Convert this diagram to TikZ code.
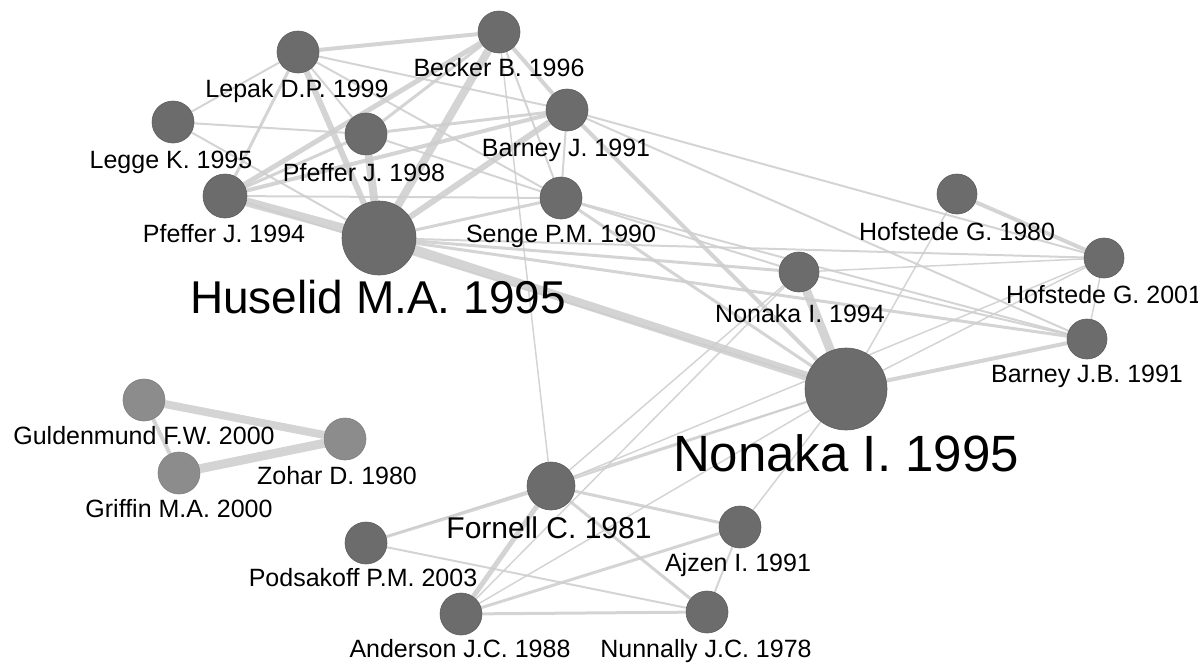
\documentclass[tikz,border=0pt]{standalone}
\usepackage{fontspec}
\setmainfont{Liberation Sans}
\usetikzlibrary{backgrounds}
\definecolor{nodegray}{RGB}{108,108,108}
\definecolor{lightnode}{RGB}{140,140,140}
\definecolor{edgegray}{RGB}{205,205,205}
\tikzset{
  dot/.style={circle, fill=nodegray, draw=nodegray!85!black, line width=0.3pt, inner sep=0pt, minimum size=#1pt},
  ldot/.style={circle, fill=lightnode, draw=lightnode!90!black, line width=0.3pt, inner sep=0pt, minimum size=#1pt},
  lab/.style={anchor=base, inner sep=0pt, font=\fontsize{12.5}{14}\selectfont},
  edge/.style={draw=edgegray, line width=#1*0.5pt, opacity=0.85},
}
\begin{document}
\begin{tikzpicture}[x=0.5pt, y=-0.5pt]
\useasboundingbox (0,0) rectangle (1198,665);
\clip (0,0) rectangle (1198,665);
% nodes
\node[dot=21] (lepak) at (298,52) {};
\node[dot=21] (becker) at (499,32) {};
\node[dot=21] (legge) at (173,122) {};
\node[dot=21] (pf98) at (366,134) {};
\node[dot=21] (bj) at (567,110) {};
\node[dot=22] (pf94) at (225,196) {};
\node[dot=37] (hus) at (379,238) {};
\node[dot=21] (senge) at (561,198) {};
\node[dot=20] (h80) at (957,194) {};
\node[dot=20] (h01) at (1104,258) {};
\node[dot=20] (bjb) at (1087,339) {};
\node[dot=20] (n94) at (799,272) {};
\node[dot=41] (n95) at (846,389) {};
\node[dot=24] (forn) at (551,486) {};
\node[dot=21] (pods) at (366,543) {};
\node[dot=21] (ajzen) at (740,527) {};
\node[dot=21] (ander) at (461,614) {};
\node[dot=21] (nunn) at (707,612) {};
\node[ldot=21] (guld) at (144,400) {};
\node[ldot=21] (zohar) at (345,439) {};
\node[ldot=21] (griff) at (179,473) {};
% edges
\begin{scope}[on background layer]
\foreach \a/\b/\w in {
  lepak/becker/4, lepak/legge/2, lepak/pf94/3, lepak/hus/6, lepak/pf98/2,
  lepak/bj/2, lepak/senge/2, legge/pf98/2, legge/hus/2,
  pf94/pf98/3, pf94/becker/5, pf94/bj/4, pf94/hus/9, pf94/senge/2, pf94/n95/2,
  pf98/hus/8, pf98/becker/3, pf98/bj/3, pf98/senge/2,
  hus/becker/8, hus/bj/6, hus/senge/3, hus/n95/9, hus/n94/3, hus/bjb/3, hus/h01/2,
  becker/bj/4, becker/senge/2, becker/forn/1.5,
  bj/senge/2, bj/n95/4, bj/bjb/2, bj/h01/2,
  senge/n95/3, senge/n94/2, senge/bjb/2,
  h80/h01/4, h80/n95/1.5, h01/bjb/1.5, h01/n95/1.5, h01/forn/1.5,
  bjb/n95/4, n94/n95/9, n94/bjb/2, n94/h01/1.5,
  forn/pods/3, forn/ajzen/3, forn/ander/5, forn/nunn/3, forn/n95/2, forn/n94/1.5,
  pods/nunn/2, ander/nunn/3, ander/ajzen/3, ander/n95/1.5, ander/n94/1.5,
  ajzen/nunn/2, ajzen/n95/1.5, pods/n95/1.5,
  guld/zohar/8, griff/zohar/9, guld/griff/4}
  { \draw[edge=\w] (\a) -- (\b); }
\end{scope}
% labels
\node[lab] (llepak) at (297,97) {Lepak D.P. 1999};
\node[lab] (lbecker) at (499,76) {Becker B. 1996};
\node[lab] (lbj) at (566,156) {Barney J. 1991};
\node[lab] (lsenge) at (561,242) {Senge P.M. 1990};
\node[lab] (llegge) at (171,168) {Legge K. 1995};
\node[lab] (lpf98) at (364,181) {Pfeffer J. 1998};
\node[lab] (lpf94) at (224,242) {Pfeffer J. 1994};
\node[lab, font=\fontsize{23}{27}\selectfont] (lhus) at (378,313) {Huselid M.A. 1995};
\node[lab] (lh80) at (957,240) {Hofstede G. 1980};
\node[lab] (lh01) at (1104,303) {Hofstede G. 2001};
\node[lab] (lbjb) at (1087,382) {Barney J.B. 1991};
\node[lab] (ln94) at (800,322) {Nonaka I. 1994};
\node[lab, font=\fontsize{25.5}{30}\selectfont] (ln95) at (846,471) {Nonaka I. 1995};
\node[lab] (lguld) at (144,444) {Guldenmund F.W. 2000};
\node[lab] (lgriff) at (179,517) {Griffin M.A. 2000};
\node[lab] (lzohar) at (337,484) {Zohar D. 1980};
\node[lab, font=\fontsize{15}{18}\selectfont] (lforn) at (549,538) {Fornell C. 1981};
\node[lab] (lpods) at (363,586) {Podsakoff P.M. 2003};
\node[lab] (lajzen) at (738,571) {Ajzen I. 1991};
\node[lab] (lander) at (460,657) {Anderson J.C. 1988};
\node[lab] (lnunn) at (706,657) {Nunnally J.C. 1978};
\end{tikzpicture}
\end{document}
